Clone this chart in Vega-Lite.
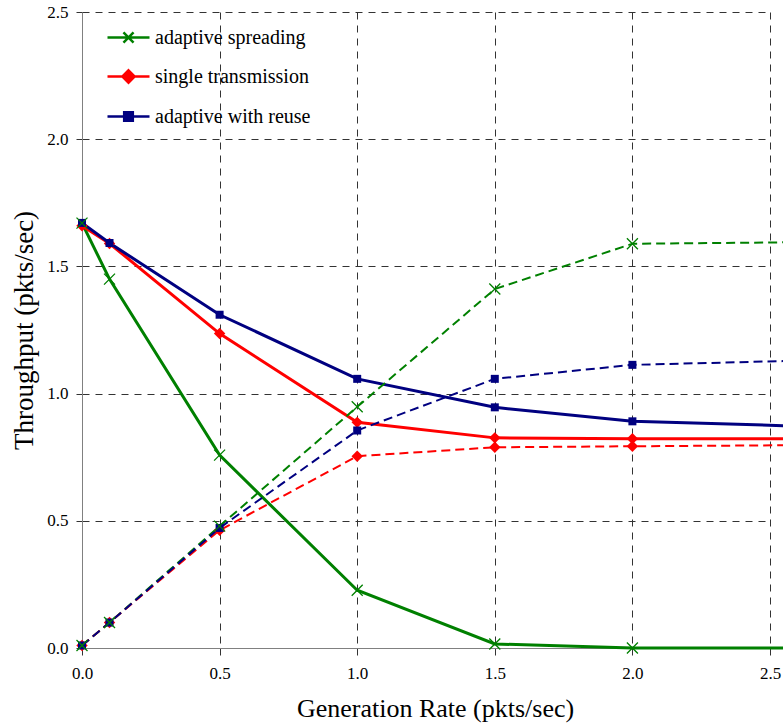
{
  "$schema": "https://vega.github.io/schema/vega-lite/v6.json",
  "autosize": {"type": "none"},
  "width": 688,
  "height": 636,
  "padding": {"left": 82, "top": 12, "right": 13, "bottom": 80},
  "background": "white",
  "config": {
    "view": {"stroke": null},
    "font": "Liberation Serif",
    "axis": {
      "labelFont": "Liberation Serif",
      "titleFont": "Liberation Serif",
      "titleFontWeight": "normal",
      "labelColor": "black",
      "titleColor": "black",
      "domainColor": "#808080",
      "tickColor": "#333333",
      "tickSize": 6,
      "grid": true,
      "gridColor": "#333333",
      "gridDash": [7, 6],
      "gridWidth": 1
    }
  },
  "data": {
    "values": [
      {"series": "adaptive spreading", "style": "solid", "x": 0, "y": 1.67},
      {"series": "adaptive spreading", "style": "solid", "x": 0.1, "y": 1.45},
      {"series": "adaptive spreading", "style": "solid", "x": 0.5, "y": 0.758},
      {"series": "adaptive spreading", "style": "solid", "x": 1.0, "y": 0.227},
      {"series": "adaptive spreading", "style": "solid", "x": 1.5, "y": 0.016},
      {"series": "adaptive spreading", "style": "solid", "x": 2.0, "y": 0.0},
      {"series": "adaptive spreading", "style": "solid", "x": 3.0, "y": 0.0},
      {"series": "single transmission", "style": "solid", "x": 0, "y": 1.66},
      {"series": "single transmission", "style": "solid", "x": 0.1, "y": 1.59},
      {"series": "single transmission", "style": "solid", "x": 0.5, "y": 1.236},
      {"series": "single transmission", "style": "solid", "x": 1.0, "y": 0.887},
      {"series": "single transmission", "style": "solid", "x": 1.5, "y": 0.826},
      {"series": "single transmission", "style": "solid", "x": 2.0, "y": 0.823},
      {"series": "single transmission", "style": "solid", "x": 3.0, "y": 0.822},
      {"series": "adaptive with reuse", "style": "solid", "x": 0, "y": 1.671},
      {"series": "adaptive with reuse", "style": "solid", "x": 0.1, "y": 1.592},
      {"series": "adaptive with reuse", "style": "solid", "x": 0.5, "y": 1.31},
      {"series": "adaptive with reuse", "style": "solid", "x": 1.0, "y": 1.058},
      {"series": "adaptive with reuse", "style": "solid", "x": 1.5, "y": 0.946},
      {"series": "adaptive with reuse", "style": "solid", "x": 2.0, "y": 0.891},
      {"series": "adaptive with reuse", "style": "solid", "x": 3.0, "y": 0.86},
      {"series": "adaptive spreading", "style": "dashed", "x": 0, "y": 0.01},
      {"series": "adaptive spreading", "style": "dashed", "x": 0.1, "y": 0.1},
      {"series": "adaptive spreading", "style": "dashed", "x": 0.5, "y": 0.479},
      {"series": "adaptive spreading", "style": "dashed", "x": 1.0, "y": 0.948},
      {"series": "adaptive spreading", "style": "dashed", "x": 1.5, "y": 1.411},
      {"series": "adaptive spreading", "style": "dashed", "x": 2.0, "y": 1.589},
      {"series": "adaptive spreading", "style": "dashed", "x": 3.0, "y": 1.599},
      {"series": "single transmission", "style": "dashed", "x": 0, "y": 0.01},
      {"series": "single transmission", "style": "dashed", "x": 0.1, "y": 0.1},
      {"series": "single transmission", "style": "dashed", "x": 0.5, "y": 0.463},
      {"series": "single transmission", "style": "dashed", "x": 1.0, "y": 0.754},
      {"series": "single transmission", "style": "dashed", "x": 1.5, "y": 0.789},
      {"series": "single transmission", "style": "dashed", "x": 2.0, "y": 0.793},
      {"series": "single transmission", "style": "dashed", "x": 3.0, "y": 0.80},
      {"series": "adaptive with reuse", "style": "dashed", "x": 0, "y": 0.01},
      {"series": "adaptive with reuse", "style": "dashed", "x": 0.1, "y": 0.1},
      {"series": "adaptive with reuse", "style": "dashed", "x": 0.5, "y": 0.472},
      {"series": "adaptive with reuse", "style": "dashed", "x": 1.0, "y": 0.855},
      {"series": "adaptive with reuse", "style": "dashed", "x": 1.5, "y": 1.058},
      {"series": "adaptive with reuse", "style": "dashed", "x": 2.0, "y": 1.113},
      {"series": "adaptive with reuse", "style": "dashed", "x": 3.0, "y": 1.14}
    ]
  },
  "encoding": {
    "x": {
      "field": "x", "type": "quantitative",
      "scale": {"domain": [0, 2.5], "nice": false, "zero": false},
      "axis": {
        "values": [0, 0.5, 1, 1.5, 2, 2.5],
        "format": ".1f",
        "labelFlush": false,
        "labelFont": "Liberation Serif",
        "labelFontSize": 17,
        "labelPadding": 10,
        "tickSize": 7,
        "title": "Generation Rate (pkts/sec)",
        "titleFont": "Liberation Serif",
        "titleFontSize": 26,
        "titlePadding": 14,
        "titleX": 353
      }
    },
    "y": {
      "field": "y", "type": "quantitative",
      "scale": {"domain": [0, 2.5], "nice": false},
      "axis": {
        "values": [0, 0.5, 1, 1.5, 2, 2.5],
        "format": ".1f",
        "labelFont": "Liberation Serif",
        "labelFontSize": 17,
        "labelPadding": 8,
        "title": "Throughput (pkts/sec)",
        "titleFont": "Liberation Serif",
        "titleFontSize": 27,
        "titlePadding": 8
      }
    }
  },
  "layer": [
    {
      "transform": [{"filter": "datum.style === 'solid'"}],
      "mark": {"type": "line", "strokeWidth": 3, "clip": false},
      "encoding": {
        "color": {
          "field": "series", "type": "nominal",
          "scale": {
            "domain": ["adaptive spreading", "single transmission", "adaptive with reuse"],
            "range": ["#008000", "#FF0000", "#000080"]
          },
          "legend": {
            "title": null,
            "orient": "none",
            "legendX": 27,
            "legendY": 6,
            "padding": 0,
            "symbolSize": 1296,
            "symbolStrokeWidth": 2.5,
            "rowPadding": 9,
            "labelOffset": 7,
            "labelFont": "Liberation Serif",
            "labelFontSize": 20,
            "labelColor": "black",
            "labelLimit": 300,
            "encode": {
              "symbols": {
                "update": {
                  "shape": {"signal": "datum.value === 'adaptive spreading' ? 'M-1.167,0L1.167,0M-0.28,-0.28L0.28,0.28M-0.28,0.28L0.28,-0.28' : datum.value === 'single transmission' ? 'M-1.167,0L1.167,0M0,-0.34L0.34,0L0,0.34L-0.34,0Z' : 'M-1.167,0L1.167,0M-0.24,-0.24L0.24,-0.24L0.24,0.24L-0.24,0.24Z'"},
                  "fill": {"scale": "color", "field": "value"},
                  "stroke": {"scale": "color", "field": "value"},
                  "fillOpacity": {"value": 1},
                  "strokeWidth": {"value": 2.5}
                }
              }
            }
          }
        }
      }
    },
    {
      "transform": [{"filter": "datum.style === 'dashed'"}],
      "mark": {"type": "line", "strokeWidth": 2, "strokeDash": [9, 5], "clip": false},
      "encoding": {
        "color": {"field": "series", "type": "nominal"}
      }
    },
    {
      "transform": [{"filter": "datum.series === 'single transmission' && datum.x <= 2.5"}],
      "mark": {"type": "point", "shape": "diamond", "filled": true, "size": 130, "color": "#FF0000", "opacity": 1, "clip": false}
    },
    {
      "transform": [{"filter": "datum.series === 'adaptive with reuse' && datum.x <= 2.5"}],
      "mark": {"type": "point", "shape": "square", "filled": true, "size": 64, "color": "#000080", "opacity": 1, "clip": false}
    },
    {
      "transform": [{"filter": "datum.series === 'adaptive spreading' && datum.x <= 2.5"}],
      "mark": {"type": "point", "shape": "M-1,-1L1,1M-1,1L1,-1", "filled": false, "size": 121, "stroke": "#008000", "strokeWidth": 1.3, "opacity": 1, "clip": false}
    }
  ]
}
